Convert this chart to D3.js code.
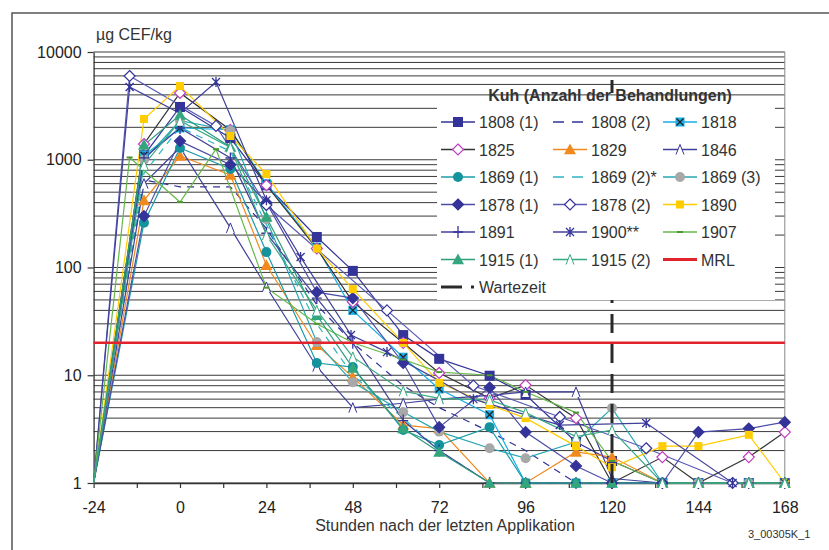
<!DOCTYPE html>
<html>
<head>
<meta charset="utf-8">
<script src="https://cdn.jsdelivr.net/npm/d3@7"></script>
<style>
  body { margin: 0; background: #fff; }
  svg { display: block; font-family: "Liberation Sans", Arial, sans-serif; }
</style>
</head>
<body>
<svg id="chart" width="829" height="550"></svg>
<script>
// Sampling times (hours after the last application)
const hours      = [-24, -10, 0, 14, 24, 38, 48, 62, 72, 86, 96, 110, 120, 134, 144, 158, 168];
const hours1878b = [-24, -14, 10, 24, 57.5, 81.5, 105.5, 129.5, 153.5];
const hours1900  = [-24, -14, 0, 10, 24, 33.5, 47.5, 57.5, 81.5, 105.5, 129.5, 153.5, 168];
const hours1907  = [-24, -14, 0, 10, 24, 38, 48, 62, 72, 86, 96, 110, 120, 134, 144, 158, 168];

// Residues, µg CEF/kg (1 = below the limit of quantification)
const v1808a = [1, 1100, 3090, 1590, 580, 192, 93, 23.6, 14.2, 9.9, 6.6, 2.4, 1.6, 1, 1, 1, 1];
const v1808b = [1, 650, 560, 560, 230, 45, 20, 8, 5, 3, 2, 1, 1, 1, 1, 1, 1];
const v1818  = [1, 1100, 1970, 1900, 600, 155, 40, 14.7, 7.45, 4.3, 1, 1, 1, 1, 1, 1, 1];
const v1825  = [1, 1400, 4170, 1890, 580, 150, 48, 20, 10.5, 6.1, 8.1, 4.0, 1, 1.74, 1, 1.74, 2.97];
const v1829  = [1, 420, 1083, 722, 105, 19, 9.6, 3.45, 3.2, 1, 1, 1.94, 1.74, 1, 1, 1, 1];
const v1846  = [1, 600, 1300, 233, 66, 12, 5, 5.5, 6, 6.5, 7, 7, 1.1, 1, 1, 1, 1];
const v1869a = [1, 260, 1285, 820, 139, 13, 11.9, 3.1, 2.25, 3.3, 1, 1, 1, 1, 1, 1, 1];
const v1869b = [1, 750, 2000, 1200, 250, 30, 10, 4, 2, 1, 1, 1, 1, 1, 1, 1, 1];
const v1869c = [1, 1000, 2300, 1870, 280, 20.3, 8.6, 4.55, 3, 2.1, 1.7, 2.4, 4.96, 1, 1, 1, 1];
const v1878a = [1, 300, 1490, 900, 400, 59, 52, 13, 3.3, 7.7, 2.97, 1.44, 1, 1, 2.97, 3.2, 3.67];
const v1878b = [1, 5990, 2060, 380, 40, 8, 4.1, 2.1, 1];
const v1890  = [1, 2390, 4830, 1660, 738, 150, 63, 20, 8.5, 5.3, 4, 2.2, 1.4, 2.2, 2.2, 2.8, 1];
const v1891  = [1, 1040, 1970, 1038, 208, 52, 20, 3.8, 2, 1, 1, 1, 1, 1, 1, 1, 1];
const v1900  = [1, 4730, 2700, 5270, 420, 125, 23.6, 16.4, 6, 3.45, 3.6, 1, 1];
const v1907  = [1, 1050, 405, 1255, 65, 30, 20, 14, 10.7, 10, 7, 4.5, 1.6, 1, 1, 1, 1];
const v1915a = [1, 1370, 2600, 1313, 294, 36, 11.7, 3.2, 1.94, 1, 1, 1, 1, 1, 1, 1, 1];
const v1915b = [1, 900, 2300, 1300, 200, 40, 14.8, 7.1, 6.1, 5.9, 4.5, 2.7, 3.1, 1, 1, 1, 1];

const mrl = 20;          // maximum residue limit
const withdrawal = 120;  // Wartezeit, hours

const yTicks = [1, 10, 100, 1000, 10000];
const xTicks = [-24, 0, 24, 48, 72, 96, 120, 144, 168];

// Series in legend order (3 columns)
const series = [
  { name: "1808 (1)",   t: hours,      v: v1808a, line: "#333399", marker: "square",  fill: "#333399", stroke: "#333399" },
  { name: "1808 (2)",   t: hours,      v: v1808b, line: "#333399", dash: "7,6", marker: "none" },
  { name: "1818",       t: hours,      v: v1818,  line: "#19aee6", marker: "squareX", fill: "#19aee6", stroke: "#222" },
  { name: "1825",       t: hours,      v: v1825,  line: "#333333", marker: "diamond", fill: "#fff", stroke: "#c03cc0" },
  { name: "1829",       t: hours,      v: v1829,  line: "#f08a1e", marker: "triangle", fill: "#f08a1e", stroke: "#f08a1e" },
  { name: "1846",       t: hours,      v: v1846,  line: "#40409a", marker: "caret",   fill: "none", stroke: "#333399" },
  { name: "1869 (1)",   t: hours,      v: v1869a, line: "#1c9ca6", marker: "circle",  fill: "#14939d", stroke: "#14939d" },
  { name: "1869 (2)*",  t: hours,      v: v1869b, line: "#2fb4c4", dash: "7,6", marker: "none" },
  { name: "1869 (3)",   t: hours,      v: v1869c, line: "#27a7b2", marker: "circle",  fill: "#a8a8a8", stroke: "#a8a8a8" },
  { name: "1878 (1)",   t: hours,      v: v1878a, line: "#4c4ca6", marker: "diamond", fill: "#333399", stroke: "#333399" },
  { name: "1878 (2)",   t: hours1878b, v: v1878b, line: "#5a5ab4", marker: "diamond", fill: "#fff", stroke: "#333399" },
  { name: "1890",       t: hours,      v: v1890,  line: "#ffcc00", marker: "square",  fill: "#ffcc00", stroke: "#ffcc00", small: true },
  { name: "1891",       t: hours,      v: v1891,  line: "#40409a", marker: "plus",    fill: "none", stroke: "#333399" },
  { name: "1900**",     t: hours1900,  v: v1900,  line: "#40409a", marker: "star",    fill: "none", stroke: "#333399" },
  { name: "1907",       t: hours1907,  v: v1907,  line: "#66b84a", marker: "dash",    fill: "none", stroke: "#4a9a30" },
  { name: "1915 (1)",   t: hours,      v: v1915a, line: "#2e9e7a", marker: "triangle", fill: "#34a67e", stroke: "#34a67e" },
  { name: "1915 (2)",   t: hours,      v: v1915b, line: "#37a884", marker: "caret",   fill: "none", stroke: "#37a884" }
];

const svg = d3.select("#chart");

// Outer frame
svg.append("rect").attr("x", 12).attr("y", 13).attr("width", 840).attr("height", 560)
  .attr("fill", "none").attr("stroke", "#555").attr("stroke-width", 1.5);

const x = d3.scaleLinear().domain([-24, 168]).range([93.6, 784.8]);
const y = d3.scaleLog().domain([1, 10000]).range([483, 52]);

// Horizontal gridlines on every 1..9 × 10^k
const gridVals = [];
for (let k = 0; k < 4; k++) for (let m = 1; m < 10; m++) gridVals.push(m * Math.pow(10, k));
gridVals.push(10000);
svg.append("g").selectAll("line").data(gridVals).join("line")
  .attr("x1", x(-24)).attr("x2", x(168))
  .attr("y1", d => y(d)).attr("y2", d => y(d))
  .attr("stroke", "#3a3a3a").attr("stroke-width", 1);

// Plot area right edge
svg.append("line").attr("x1", x(168)).attr("x2", x(168)).attr("y1", y(10000)).attr("y2", y(1))
  .attr("stroke", "#888").attr("stroke-width", 1);

// Axes
const yAxis = svg.append("g").attr("transform", `translate(${x(-24)},0)`)
  .call(d3.axisLeft(y).tickValues(yTicks).tickFormat(d => String(d)).tickSize(6).tickSizeOuter(0));
const xAxis = svg.append("g").attr("transform", `translate(0,${y(1)})`)
  .call(d3.axisBottom(x).tickValues(d3.range(-24, 169, 12)).tickFormat(d => xTicks.includes(d) ? String(d) : "")
    .tickSize(5).tickSizeOuter(0));
[yAxis, xAxis].forEach(g => {
  g.select(".domain").attr("stroke", "#333").attr("stroke-width", 1.3);
  g.selectAll(".tick line").attr("stroke", "#333").attr("stroke-width", 1.2);
  g.selectAll(".tick text").attr("font-size", 16).attr("fill", "#222")
    .attr("font-family", "Liberation Sans, Arial, sans-serif");
});
yAxis.selectAll(".tick text").attr("x", -12);
xAxis.selectAll(".tick text").attr("y", 19);

// Marker drawing
function drawMarker(g, s, cx, cy) {
  const m = s.marker;
  if (m === "square") {
    const h = s.small ? 4 : 5;
    g.append("rect").attr("x", cx - h).attr("y", cy - h).attr("width", 2 * h).attr("height", 2 * h)
      .attr("fill", s.fill);
  } else if (m === "squareX") {
    g.append("rect").attr("x", cx - 4.5).attr("y", cy - 4.5).attr("width", 9).attr("height", 9).attr("fill", s.fill);
    g.append("path").attr("d", `M${cx-3.5},${cy-3.5}L${cx+3.5},${cy+3.5}M${cx-3.5},${cy+3.5}L${cx+3.5},${cy-3.5}`)
      .attr("stroke", s.stroke).attr("stroke-width", 1.3);
  } else if (m === "diamond") {
    const r = 5.5;
    g.append("path").attr("d", `M${cx},${cy-r}L${cx+r},${cy}L${cx},${cy+r}L${cx-r},${cy}Z`)
      .attr("fill", s.fill).attr("stroke", s.stroke).attr("stroke-width", 1.2);
  } else if (m === "triangle") {
    const r = 6;
    g.append("path").attr("d", `M${cx},${cy-r}L${cx+r},${cy+r*0.8}L${cx-r},${cy+r*0.8}Z`).attr("fill", s.fill);
  } else if (m === "circle") {
    g.append("circle").attr("cx", cx).attr("cy", cy).attr("r", 5).attr("fill", s.fill);
  } else if (m === "caret") {
    g.append("path").attr("d", `M${cx-4},${cy+5}L${cx},${cy-5}L${cx+4},${cy+5}`)
      .attr("fill", "#fff").attr("stroke", s.stroke).attr("stroke-width", 1);
  } else if (m === "plus") {
    g.append("path").attr("d", `M${cx-5},${cy}L${cx+5},${cy}M${cx},${cy-6}L${cx},${cy+6}`)
      .attr("stroke", s.stroke).attr("stroke-width", 1.3);
  } else if (m === "star") {
    g.append("path").attr("d", `M${cx-4},${cy-4}L${cx+4},${cy+4}M${cx-4},${cy+4}L${cx+4},${cy-4}M${cx},${cy-5}L${cx},${cy+5}`)
      .attr("stroke", s.stroke).attr("stroke-width", 1.3);
  } else if (m === "dash") {
    g.append("path").attr("d", `M${cx-3},${cy}L${cx+3},${cy}`).attr("stroke", s.stroke).attr("stroke-width", 2);
  }
}

const line = d3.line().x(d => x(d[0])).y(d => y(d[1]));
const plot = svg.append("g");
series.forEach(s => {
  const pts = s.t.map((t, i) => [t, s.v[i]]);
  plot.append("path").datum(pts).attr("d", line).attr("fill", "none")
    .attr("stroke", s.line).attr("stroke-width", 1.2)
    .attr("stroke-dasharray", s.dash || null);
});
series.forEach(s => {
  if (s.marker === "none") return;
  const g = plot.append("g");
  s.t.forEach((t, i) => { if (t > -24) drawMarker(g, s, x(t), y(s.v[i])); });
});

// MRL
svg.append("line").attr("x1", x(-24)).attr("x2", x(168)).attr("y1", y(mrl)).attr("y2", y(mrl))
  .attr("stroke", "#e3232c").attr("stroke-width", 2.6);

// Withdrawal period
svg.append("line").attr("x1", x(withdrawal)).attr("x2", x(withdrawal)).attr("y1", y(1)).attr("y2", 80)
  .attr("stroke", "#2a2a2a").attr("stroke-width", 3).attr("stroke-dasharray", "19,11");

// Legend
const lg = svg.append("g");
lg.append("rect").attr("x", 437).attr("y", 102).attr("width", 338).attr("height", 198).attr("fill", "#fff");
lg.append("text").attr("x", 610).attr("y", 101).attr("text-anchor", "middle")
  .attr("font-size", 16).attr("font-weight", "bold").attr("fill", "#333").text("Kuh (Anzahl der Behandlungen)");
const colX = [441, 553, 663];
const rowY = [122, 149.5, 177, 204.5, 232, 259.5];
series.forEach((s, i) => {
  const cx = colX[i % 3], cy = rowY[Math.floor(i / 3)];
  lg.append("line").attr("x1", cx).attr("x2", cx + 34).attr("y1", cy).attr("y2", cy)
    .attr("stroke", s.line).attr("stroke-width", 1.3).attr("stroke-dasharray", s.dash ? "11,8" : null);
  if (s.marker !== "none") drawMarker(lg, s, cx + 17, cy);
  lg.append("text").attr("x", cx + 38).attr("y", cy + 6).attr("font-size", 16).attr("fill", "#333").text(s.name);
});
// MRL entry
lg.append("line").attr("x1", colX[2]).attr("x2", colX[2] + 34).attr("y1", rowY[5]).attr("y2", rowY[5])
  .attr("stroke", "#e3232c").attr("stroke-width", 3);
lg.append("text").attr("x", colX[2] + 38).attr("y", rowY[5] + 6).attr("font-size", 16).attr("fill", "#333").text("MRL");
// Withdrawal entry
lg.append("line").attr("x1", 441).attr("x2", 462).attr("y1", 287).attr("y2", 287).attr("stroke", "#2a2a2a").attr("stroke-width", 3);
lg.append("rect").attr("x", 471).attr("y", 285.5).attr("width", 3).attr("height", 3).attr("fill", "#2a2a2a");
lg.append("text").attr("x", 479).attr("y", 293).attr("font-size", 16).attr("fill", "#333").text("Wartezeit");

// Titles
svg.append("text").attr("x", 96).attr("y", 40).attr("font-size", 16).attr("fill", "#333").text("µg CEF/kg");
svg.append("text").attr("x", 445).attr("y", 531).attr("text-anchor", "middle").attr("font-size", 16)
  .attr("fill", "#333").text("Stunden nach der letzten Applikation");
svg.append("text").attr("x", 748).attr("y", 538).attr("font-size", 11).attr("fill", "#333").text("3_00305K_1");
</script>
</body>
</html>
